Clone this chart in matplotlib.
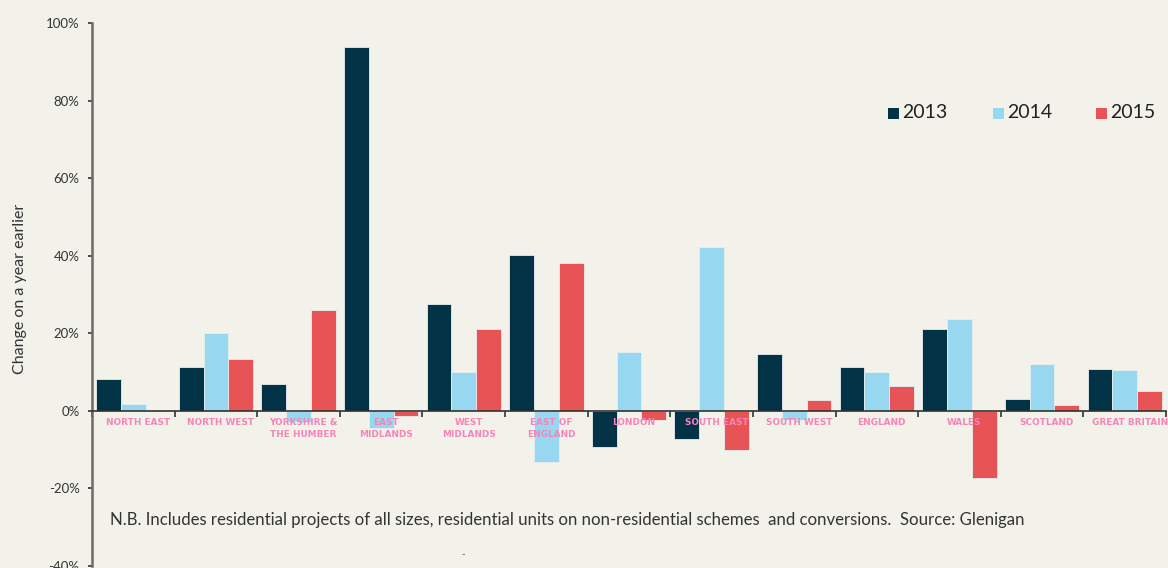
import matplotlib
matplotlib.use("Agg")
import matplotlib.pyplot as plt
from matplotlib.patches import Rectangle
import numpy as np

regions = ["NORTH EAST", "NORTH WEST", "YORKSHIRE &\nTHE HUMBER", "EAST\nMIDLANDS",
           "WEST\nMIDLANDS", "EAST OF\nENGLAND", "LONDON", "SOUTH EAST", "SOUTH WEST",
           "ENGLAND", "WALES", "SCOTLAND", "GREAT BRITAIN"]
years = ["2013", "2014", "2015"]
v2013 = [8.1, 11.2, 6.9, 93.8, 27.6, 40.1, -9.3, -7.3, 14.7, 11.3, 21.1, 3.1, 10.9]
v2014 = [1.7, 20.0, -3.0, -4.4, 9.9, -13.3, 15.1, 42.2, -2.3, 9.9, 23.7, 12.2, 10.5]
v2015 = [0.0, 13.3, 26.0, -1.2, 21.1, 38.2, -2.3, -10.1, 2.8, 6.4, -17.2, 1.6, 5.2]
yticks = [-40, -20, 0, 20, 40, 60, 80, 100]
note = ("N.B. Includes residential projects of all sizes, residential units on "
        "non-residential schemes  and conversions.  Source: Glenigan")
ylabel = "Change on a year earlier"

colors = ["#023246", "#97D7F0", "#E85456"]
bg = "#F2F2EB"
label_col = "#F585B8"
font = "Lato"

W, H = 1168, 568
fig = plt.figure(figsize=(W / 100, H / 100), dpi=100, facecolor=bg)
ax = fig.add_axes([92 / W, 2 / H, (1166 - 92) / W, (566 - 23) / H])
ax.set_facecolor(bg)

x = np.arange(len(regions))
bw = 0.3
for i, (vals, c) in enumerate(zip([v2013, v2014, v2015], colors)):
    ax.bar(x + (i - 1) * bw, vals, width=bw, color=c, edgecolor="#e8eef0",
           linewidth=0.6, zorder=2)

ax.set_xlim(-0.5, len(regions) - 0.5)
ax.set_ylim(-40, 100)

for s in ["top", "right"]:
    ax.spines[s].set_visible(False)
ax.spines["left"].set_color("#6b6b66")
ax.spines["left"].set_linewidth(1.8)
ax.spines["bottom"].set_position(("data", 0))
ax.spines["bottom"].set_color("#333333")
ax.spines["bottom"].set_linewidth(1.2)
ax.spines["bottom"].set_zorder(3)

ax.set_xticks(np.arange(-0.5, len(regions) + 0.5, 1.0))
ax.set_xticklabels([])
ax.tick_params(axis="x", direction="out", length=4, width=1.2, color="#333333")

ax.set_yticks(yticks)
ax.set_yticklabels([f"{t}%" for t in yticks], fontfamily=font, fontsize=9.5,
                   color="#333333")
ax.tick_params(axis="y", direction="out", length=3, width=1.2, color="#333333", pad=6)

for xi, lab in zip(x, regions):
    ax.text(xi + 0.06, -1.9, lab, ha="center", va="top", fontsize=6.4,
            fontweight="bold", fontfamily="DejaVu Sans", color=label_col,
            linespacing=1.4, zorder=4, clip_on=False)

fig.text(20 / W, 1 - 289 / H, ylabel, rotation=90, ha="center", va="center",
         fontfamily=font, fontsize=11.5, color="#333333")

fig.text(110 / W, 1 - 520 / H, note, ha="left", va="center", fontfamily=font,
         fontsize=12.1, color="#333333")
fig.text(463 / W, 1 - 555 / H, "-", ha="center", va="center", fontfamily=font,
         fontsize=7, color="#555555")

# legend
for sx, c, yr in zip([888, 993, 1096], colors, years):
    fig.patches.append(Rectangle((sx / W, 1 - 119 / H), 11 / W, 11 / H,
                                 transform=fig.transFigure, facecolor=c,
                                 edgecolor="none"))
    fig.text((sx + 14) / W, 1 - 113 / H, yr, ha="left", va="center",
             fontfamily=font, fontsize=14, color="#222222")

fig.savefig("out.png", dpi=100, facecolor=bg)
